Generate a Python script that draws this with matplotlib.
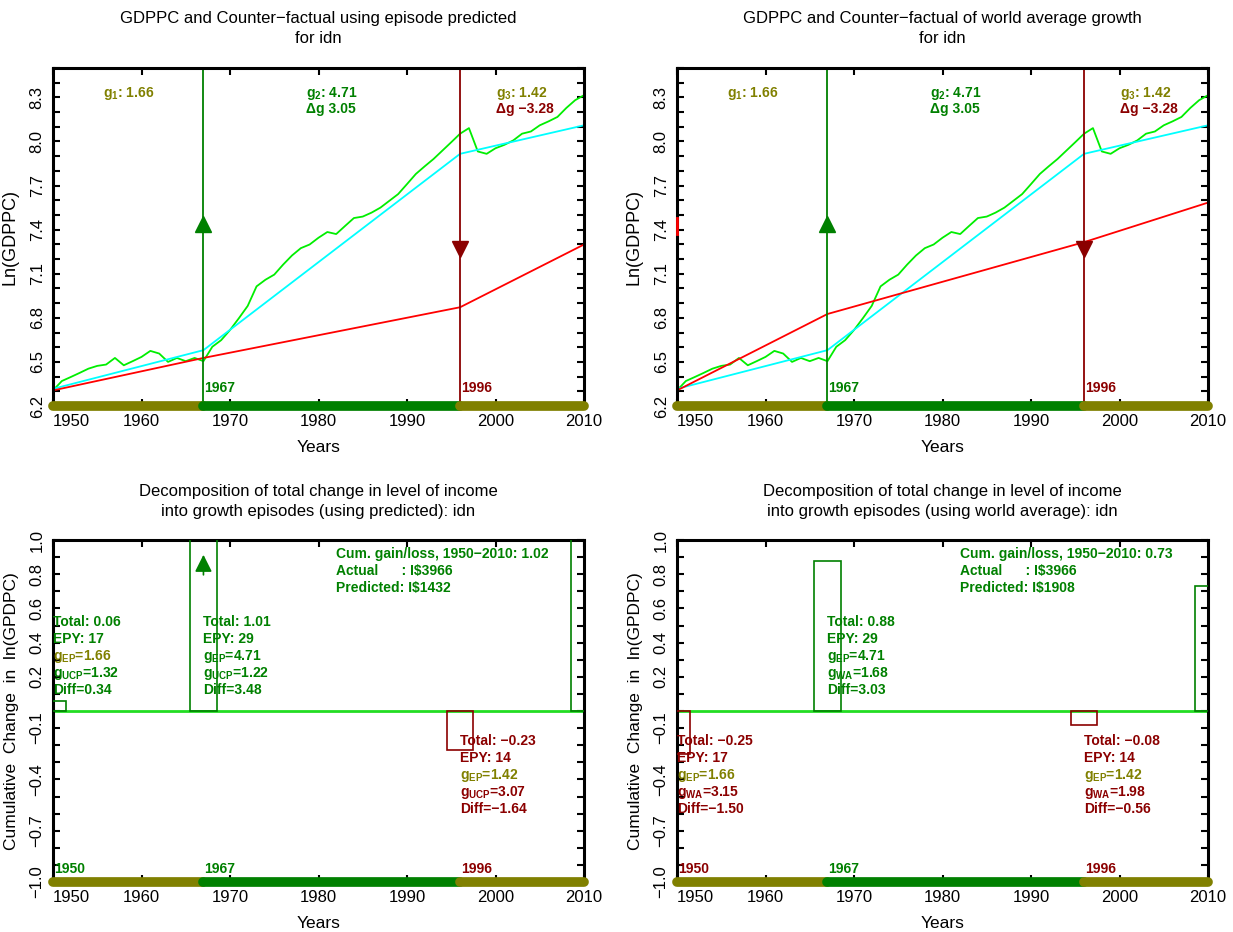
import numpy as np
import matplotlib
matplotlib.use('Agg')
import matplotlib.pyplot as plt

plt.rcParams['font.family'] = ['Liberation Sans', 'DejaVu Sans']
plt.rcParams['mathtext.fontset'] = 'custom'
plt.rcParams['mathtext.rm'] = 'Liberation Sans:bold'

OLIVE = '#808000'
GREEN = '#008000'
DARKRED = '#8b0000'
LIME = '#00ee00'

# Actual ln(GDPPC) for idn
years = np.arange(1950, 2011)
ln_gdppc = [6.306, 6.370, 6.397, 6.425, 6.454, 6.473, 6.482, 6.527, 6.477, 6.505,
            6.534, 6.575, 6.557, 6.500, 6.527, 6.505, 6.527, 6.505, 6.603, 6.648,
            6.717, 6.797, 6.881, 7.014, 7.059, 7.094, 7.162, 7.224, 7.274, 7.299,
            7.345, 7.384, 7.370, 7.425, 7.479, 7.489, 7.516, 7.550, 7.596, 7.642,
            7.710, 7.779, 7.831, 7.881, 7.938, 7.995, 8.053, 8.091, 7.932, 7.916,
            7.954, 7.977, 8.007, 8.053, 8.068, 8.110, 8.137, 8.167, 8.228, 8.281,
            8.315]

# Fitted episode path (cyan) and the two counterfactuals (red)
fit_years = [1950, 1950.2, 1967, 1996, 2010]
fit_vals = [6.275, 6.32, 6.580, 7.916, 8.110]
break_years = [1950, 1967, 1996, 2010]
cf_predicted = [6.306, 6.527, 6.872, 7.299]
cf_world = [6.306, 6.826, 7.315, 7.584]
world_stub = [7.37, 7.48]

# Episodes
ep_start = [1950, 1967, 1996]
ep_end = [1967, 1996, 2010]
epy = [17, 29, 14]
g_ep = [1.66, 4.71, 1.42]
delta_g = [None, 3.05, -3.28]
break_marker_y = [7.44, 7.27]

g_ucp = [1.32, 1.22, 3.07]
diff_ucp = [0.34, 3.48, -1.64]
total_ucp = [0.06, 1.01, -0.23]
cum_ucp = 1.02
pred_ucp = 1432

g_wa = [3.15, 1.68, 1.98]
diff_wa = [-1.50, 3.03, -0.56]
total_wa = [-0.25, 0.88, -0.08]
cum_wa = 0.73
pred_wa = 1908

actual_usd = 3966

ep_colors = [OLIVE, GREEN, OLIVE]

W, H = 1233, 932
fig = plt.figure(figsize=(W / 100, H / 100), dpi=100)

TXT = dict(fontsize=10, fontweight='bold', va='center')


def px_axes(left, top, right, bottom):
    return fig.add_axes([left / W, 1 - bottom / H, (right - left) / W, (bottom - top) / H])


def sign_color(v):
    return GREEN if v >= 0 else DARKRED


def fmt(v):
    return ('%.2f' % v).replace('-', '\u2212')


def style_axes(ax, ylim, major, minor):
    for s in ax.spines.values():
        s.set_linewidth(2.2)
    ax.set_xlim(1950, 2010)
    ax.set_ylim(*ylim)
    ax.set_xticks(range(1950, 2011, 10))
    ax.set_yticks(major)
    ax.set_yticks(minor, minor=True)
    ax.set_yticklabels([('%.1f' % v).replace('-', '\u2212') for v in major],
                       rotation=90, va='center')
    ax.tick_params(which='both', direction='in', top=True, right=True,
                   length=5, width=1.5, labelsize=12, pad=6)
    ax.get_xticklabels()[0].set_ha('left')
    ax.set_xlabel('Years', fontsize=12.5, labelpad=8)


def episode_bar(ax):
    y0 = ax.get_ylim()[0]
    for i in range(3):
        ax.plot([ep_start[i], ep_end[i]], [y0, y0], color=ep_colors[i], lw=7,
                solid_capstyle='round', clip_on=False, zorder=5)


def draw_levels(ax, cf, title):
    style_axes(ax, (6.2, 8.5), np.arange(6.2, 8.31, 0.3), np.arange(6.2, 8.51, 0.1))
    ax.plot(years, ln_gdppc, color=LIME, lw=1.3)
    ax.plot(fit_years, fit_vals, color='cyan', lw=1.3)
    ax.plot(break_years, cf, color='red', lw=1.3)

    # Episode breaks
    for i in (1, 2):
        c = sign_color(delta_g[i])
        ax.axvline(ep_start[i], color=c, lw=1.3)
        ax.plot(ep_start[i], break_marker_y[i - 1], marker='^' if delta_g[i] > 0 else 'v',
                color=c, ms=11)
        ax.text(ep_start[i] + 0.1, 6.32, str(ep_start[i]), color=c, **TXT)

    # Episode growth labels
    label_x = [1955.6, 1978.6, 2000.0]
    for i in range(3):
        ax.text(label_x[i], 8.327, r'g$_\mathregular{%d}$: %s' % (i + 1, fmt(g_ep[i])),
                color=ep_colors[i], **TXT)
        if delta_g[i] is not None:
            ax.text(label_x[i], 8.224, '\u0394g ' + fmt(delta_g[i]),
                    color=sign_color(delta_g[i]), **TXT)

    episode_bar(ax)
    ax.set_ylabel('Ln(GDPPC)', fontsize=13, labelpad=8)
    ax.set_title(title, fontsize=12, pad=18, linespacing=1.45)


def draw_decomp(ax, totals, g_cf, diffs, cum, pred, sub, title):
    major = [1.0, 0.8, 0.6, 0.4, 0.2, -0.1, -0.4, -0.7, -1.0]
    style_axes(ax, (-1.0, 1.0), major, np.arange(-1.0, 1.01, 0.1))
    ax.axhline(0, color='#22dd22', lw=2)

    # Bars: one per episode start plus the cumulative one at the end
    centers = ep_start + [2010]
    heights = totals + [cum]
    ax.bar(centers, heights, width=3, fill=False, lw=1.2,
           edgecolor=[sign_color(h) for h in heights], zorder=3)

    # Arrow where an episode bar runs off the top
    for i in range(3):
        if totals[i] > 1.0:
            ax.annotate('', xy=(ep_start[i], 0.93), xytext=(ep_start[i], 0.78),
                        arrowprops=dict(arrowstyle='-|>', color=GREEN, lw=1.2,
                                        mutation_scale=26))

    # Episode text blocks
    for i in range(3):
        c = sign_color(totals[i])
        cd = sign_color(diffs[i])
        y0 = 0.52 if totals[i] >= 0 else -0.175
        lines = [('Total: ' + fmt(totals[i]), c),
                 ('EPY: %d' % epy[i], c),
                 (r'g$_\mathregular{EP}$=' + fmt(g_ep[i]), ep_colors[i]),
                 (r'g$_\mathregular{%s}$=' % sub + fmt(g_cf[i]), cd),
                 ('Diff=' + fmt(diffs[i]), cd)]
        for k, (s, col) in enumerate(lines):
            ax.text(ep_start[i], y0 - 0.1 * k, s, color=col, **TXT)
        ax.text(ep_start[i] + 0.1, -0.925, str(ep_start[i]), color=c, **TXT)

    ax.text(1982, 0.918, 'Cum. gain/loss, 1950\u22122010: ' + fmt(cum), color=GREEN, **TXT)
    ax.text(1982, 0.817, 'Actual      : I$%d' % actual_usd, color=GREEN, **TXT)
    ax.text(1982, 0.717, 'Predicted: I$%d' % pred, color=GREEN, **TXT)

    episode_bar(ax)
    ax.set_ylabel('Cumulative  Change  in  ln(GPDPC)', fontsize=12.5, labelpad=8)
    ax.set_title(title, fontsize=12, pad=17, linespacing=1.45)


ax_tl = px_axes(53, 68, 584, 406)
ax_tr = px_axes(677, 68, 1208, 406)
ax_bl = px_axes(53, 540, 584, 882)
ax_br = px_axes(677, 540, 1208, 882)

draw_levels(ax_tl, cf_predicted,
            'GDPPC and Counter\u2212factual using episode predicted\nfor idn')
draw_levels(ax_tr, cf_world,
            'GDPPC and Counter\u2212factual of world average growth\nfor idn')
ax_tr.plot([1950, 1950], world_stub, color='red', lw=2, clip_on=False, zorder=6)

draw_decomp(ax_bl, total_ucp, g_ucp, diff_ucp, cum_ucp, pred_ucp, 'UCP',
            'Decomposition of total change in level of income\n'
            'into growth episodes (using predicted): idn')
draw_decomp(ax_br, total_wa, g_wa, diff_wa, cum_wa, pred_wa, 'WA',
            'Decomposition of total change in level of income\n'
            'into growth episodes (using world average): idn')

fig.savefig('out.png', dpi=100)
